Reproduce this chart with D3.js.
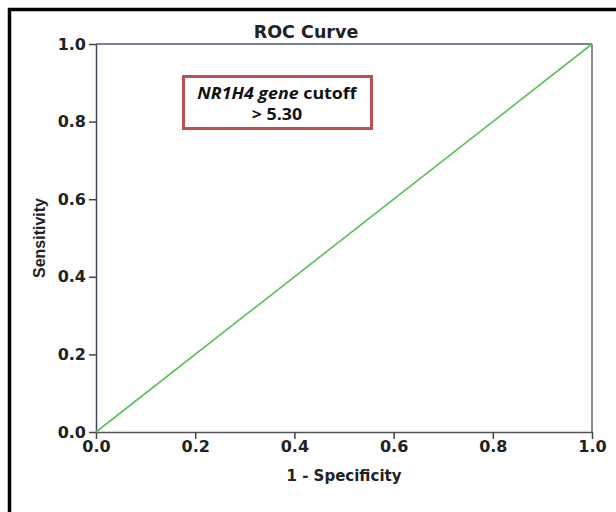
<!DOCTYPE html>
<html>
<head>
<meta charset="utf-8">
<script src="https://cdn.jsdelivr.net/npm/d3@7"></script>
<style>
  body { margin: 0; background: #fff; }
  svg { display: block; }
</style>
</head>
<body>
<svg id="chart" width="616" height="512"></svg>
<script>
'use strict';

// ROC points (1 - specificity, sensitivity)
var fpr = [0, 1];
var tpr = [0, 1];
var tickValues = [0, 0.2, 0.4, 0.6, 0.8, 1.0];

var svg = d3.select('#chart');
var boldFont = '"DejaVu Sans", Verdana, sans-serif';

// outer frame of the pasted figure
svg.append('path')
  .attr('d', 'M9.5,512 L9.5,9.5 L616,9.5')
  .attr('fill', 'none')
  .attr('stroke', '#000')
  .attr('stroke-width', 3.5);

var plotLeft = 96, plotRight = 592, plotTop = 44, plotBottom = 432;

var x = d3.scaleLinear().domain([0, 1]).range([plotLeft, plotRight]);
var y = d3.scaleLinear().domain([0, 1]).range([plotBottom, plotTop]);

// plot box
svg.append('line').attr('x1', plotLeft).attr('x2', plotRight).attr('y1', plotTop).attr('y2', plotTop)
  .attr('stroke', '#4a5578').attr('stroke-width', 1.5);
svg.append('line').attr('x1', plotRight).attr('x2', plotRight).attr('y1', plotTop).attr('y2', plotBottom)
  .attr('stroke', '#666').attr('stroke-width', 1.5);

var xAxis = svg.append('g')
  .attr('transform', 'translate(0,' + plotBottom + ')')
  .call(d3.axisBottom(x).tickValues(tickValues).tickFormat(d3.format('.1f')).tickSize(7).tickSizeOuter(0));
xAxis.select('.domain').attr('stroke', '#555').attr('stroke-width', 1.5);
xAxis.selectAll('.tick line').attr('stroke', '#444').attr('stroke-width', 1.5);
xAxis.selectAll('.tick text').attr('y', 8).attr('dy', '0.75em');

var yAxis = svg.append('g')
  .attr('transform', 'translate(' + plotLeft + ',0)')
  .call(d3.axisLeft(y).tickValues(tickValues).tickFormat(d3.format('.1f')).tickSize(7).tickSizeOuter(0));
yAxis.select('.domain').attr('stroke', '#3c4668').attr('stroke-width', 1.5);
yAxis.selectAll('.tick line').attr('stroke', '#444').attr('stroke-width', 1.5);
yAxis.selectAll('.tick text').attr('x', -10);

svg.selectAll('.tick text')
  .style('font-family', boldFont)
  .style('font-weight', 'bold')
  .style('font-size', '16px')
  .style('fill', '#222');

// ROC line
var pts = fpr.map(function (d, i) { return [d, tpr[i]]; });
svg.append('path')
  .datum(pts)
  .attr('fill', 'none')
  .attr('stroke', '#55c255')
  .attr('stroke-width', 1.6)
  .attr('d', d3.line().x(function (d) { return x(d[0]); }).y(function (d) { return y(d[1]); }));

// titles
svg.append('text')
  .attr('x', 306).attr('y', 38)
  .attr('text-anchor', 'middle')
  .style('font-family', boldFont)
  .style('font-weight', 'bold').style('font-size', '17.5px').style('fill', '#222')
  .text('ROC Curve');

svg.append('text')
  .attr('x', 344).attr('y', 481)
  .attr('text-anchor', 'middle')
  .style('font-family', boldFont)
  .style('font-weight', 'bold').style('font-size', '15px').style('fill', '#222')
  .text('1 - Specificity');

svg.append('text')
  .attr('transform', 'translate(45,238) rotate(-90)')
  .attr('text-anchor', 'middle')
  .style('font-family', '"Liberation Sans Narrow", "Arial Narrow", sans-serif')
  .style('font-stretch', 'condensed')
  .style('font-weight', 'bold').style('font-size', '16px').style('fill', '#222')
  .text('Sensitivity');

// annotation box
svg.append('rect')
  .attr('x', 183.5).attr('y', 76.5).attr('width', 188).attr('height', 52)
  .attr('fill', '#fff').attr('stroke', '#c0504d').attr('stroke-width', 3);

var note = svg.append('text')
  .attr('transform', 'translate(277,0) scale(1.15,1)')
  .attr('text-anchor', 'middle')
  .style('font-family', '"Open Sans", "Noto Sans", sans-serif')
  .style('font-weight', 'bold').style('font-size', '15.5px').style('fill', '#111');
var l1 = note.append('tspan').attr('x', 0).attr('y', 99);
l1.append('tspan').style('font-style', 'italic').text('NR1H4 gene');
l1.append('tspan').text(' cutoff');
note.append('tspan').attr('x', 0).attr('y', 120).text('> 5.30');
</script>
</body>
</html>
